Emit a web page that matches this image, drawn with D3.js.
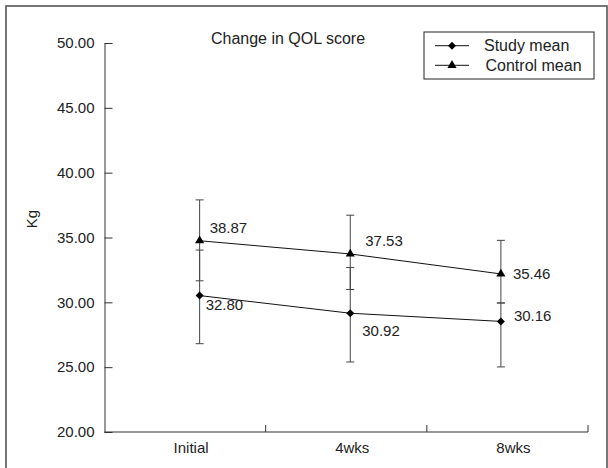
<!DOCTYPE html>
<html lang="en">
<head>
<meta charset="UTF-8">
<title>Change in QOL score</title>
<script src="https://d3js.org/d3.v7.min.js"></script>
<style>
    body { margin: 0; background: #fff; }
    svg text { font-family: "Liberation Sans", Arial, sans-serif; fill: #222; }
</style>
</head>
<body>
<svg width="608" height="468"></svg>
<script>
    // chart values
    const categories = ["Initial", "4wks", "8wks"];
    const yTickValues = [20, 25, 30, 35, 40, 45, 50];

    const studyMean = [30.52, 29.16, 28.53];
    const studyHi = [34.03, 32.69, 29.95];
    const studyLo = [26.81, 25.40, 25.02];
    const studyLabels = ["32.80", "30.92", "30.16"];

    const controlMean = [34.75, 33.73, 32.19];
    const controlHi = [37.90, 36.72, 34.78];
    const controlLo = [31.66, 30.99, 29.95];
    const controlLabels = ["38.87", "37.53", "35.46"];

    // hand placed label offsets (as in the original figure)
    const studyNudge = [[6, 9], [12, 18], [13, -6]];
    const controlNudge = [[10, -13], [15, -13], [12, 0]];

    const svg = d3.select("svg");

    // outer frame
    svg.append("rect")
        .attr("x", 6).attr("y", 6)
        .attr("width", 601).attr("height", 470)
        .attr("fill", "none")
        .attr("stroke", "#555")
        .attr("stroke-width", 1.6);

    const plotLeft = 104.5, plotRight = 588, plotTop = 43, plotBottom = 432;

    const x = d3.scaleBand().domain(categories).range([plotLeft, plotRight]).padding(0);
    const xp = d3.scalePoint().domain(categories).range([plotLeft, plotRight]).padding(0.605).align(0.522);
    const y = d3.scaleLinear().domain([20, 50]).range([plotBottom, plotTop]);

    // y axis, ticks pointing inward
    const yAxis = svg.append("g")
        .attr("transform", `translate(${plotLeft},0)`)
        .call(d3.axisLeft(y).tickValues(yTickValues).tickFormat(d3.format(".2f"))
            .tickSizeInner(-8).tickSizeOuter(0).tickPadding(10));
    yAxis.selectAll("text").attr("font-size", 15);
    yAxis.selectAll("line,path").attr("stroke", "#333");

    // x axis line with boundary ticks pointing up
    const xg = svg.append("g").attr("transform", `translate(0,${plotBottom})`);
    xg.append("line").attr("x1", plotLeft).attr("x2", plotRight).attr("stroke", "#333");
    xg.selectAll(".bt")
        .data(categories)
        .join("line")
        .attr("x1", d => x(d) + x.bandwidth())
        .attr("x2", d => x(d) + x.bandwidth())
        .attr("y1", 0).attr("y2", -7)
        .attr("stroke", "#333");
    xg.selectAll("text")
        .data(categories)
        .join("text")
        .attr("x", d => x(d) + x.bandwidth() / 2 + 6)
        .attr("y", 16)
        .attr("dy", "0.35em")
        .attr("text-anchor", "middle")
        .attr("font-size", 15)
        .text(d => d);

    // axis title
    svg.append("text")
        .attr("transform", "translate(32,219) rotate(-90)")
        .attr("text-anchor", "middle")
        .attr("dy", "0.35em")
        .attr("font-size", 15)
        .text("Kg");

    // chart title
    svg.append("text")
        .attr("x", 288).attr("y", 38)
        .attr("dy", "0.35em")
        .attr("text-anchor", "middle")
        .attr("font-size", 16)
        .text("Change in QOL score");

    const diamond = d3.symbol().type(d3.symbolSquare).size(32);
    const triangle = d3.symbol().type(d3.symbolTriangle).size(36);

    function drawSeries(mean, hi, lo, labels, nudge, shape, rotate) {
        const g = svg.append("g");
        const pts = categories.map((c, i) => ({ c, v: mean[i], hi: hi[i], lo: lo[i], lab: labels[i], n: nudge[i] }));

        // error bars
        const eb = g.selectAll(".eb").data(pts).join("g").attr("stroke", "#444");
        eb.append("line")
            .attr("x1", d => xp(d.c)).attr("x2", d => xp(d.c))
            .attr("y1", d => y(d.hi)).attr("y2", d => y(d.lo));
        eb.append("line")
            .attr("x1", d => xp(d.c) - 4).attr("x2", d => xp(d.c) + 4)
            .attr("y1", d => y(d.hi)).attr("y2", d => y(d.hi));
        eb.append("line")
            .attr("x1", d => xp(d.c) - 4).attr("x2", d => xp(d.c) + 4)
            .attr("y1", d => y(d.lo)).attr("y2", d => y(d.lo));

        // mean line
        g.append("path")
            .datum(pts)
            .attr("fill", "none")
            .attr("stroke", "#111")
            .attr("stroke-width", 1)
            .attr("d", d3.line().x(d => xp(d.c)).y(d => y(d.v)));

        g.selectAll(".mk").data(pts).join("path")
            .attr("d", shape)
            .attr("fill", "#000")
            .attr("transform", d => `translate(${xp(d.c)},${y(d.v)}) rotate(${rotate})`);

        g.selectAll(".lab").data(pts).join("text")
            .attr("x", d => xp(d.c) + d.n[0])
            .attr("y", d => y(d.v) + d.n[1])
            .attr("dy", "0.35em")
            .attr("font-size", 15)
            .text(d => d.lab);
    }

    drawSeries(studyMean, studyHi, studyLo, studyLabels, studyNudge, diamond, 45);
    drawSeries(controlMean, controlHi, controlLo, controlLabels, controlNudge, triangle, 0);

    // legend
    const legend = svg.append("g");
    legend.append("rect")
        .attr("x", 424).attr("y", 32)
        .attr("width", 170).attr("height", 47)
        .attr("fill", "#fff")
        .attr("stroke", "#222");
    const items = [
        { name: "Study mean", shape: diamond, rot: 45 },
        { name: "Control mean", shape: triangle, rot: 0 }
    ];
    const li = legend.selectAll(".li").data(items).join("g")
        .attr("transform", (d, i) => `translate(0,${45.7 + i * 19.6})`);
    li.append("line").attr("x1", 435).attr("x2", 469).attr("stroke", "#111");
    li.append("path")
        .attr("d", d => d.shape())
        .attr("fill", "#000")
        .attr("transform", d => `translate(452,0) rotate(${d.rot})`);
    li.append("text")
        .attr("x", (d, i) => 484 + i * 1.5)
        .attr("dy", "0.35em")
        .attr("font-size", 16)
        .text(d => d.name);
</script>
</body>
</html>
